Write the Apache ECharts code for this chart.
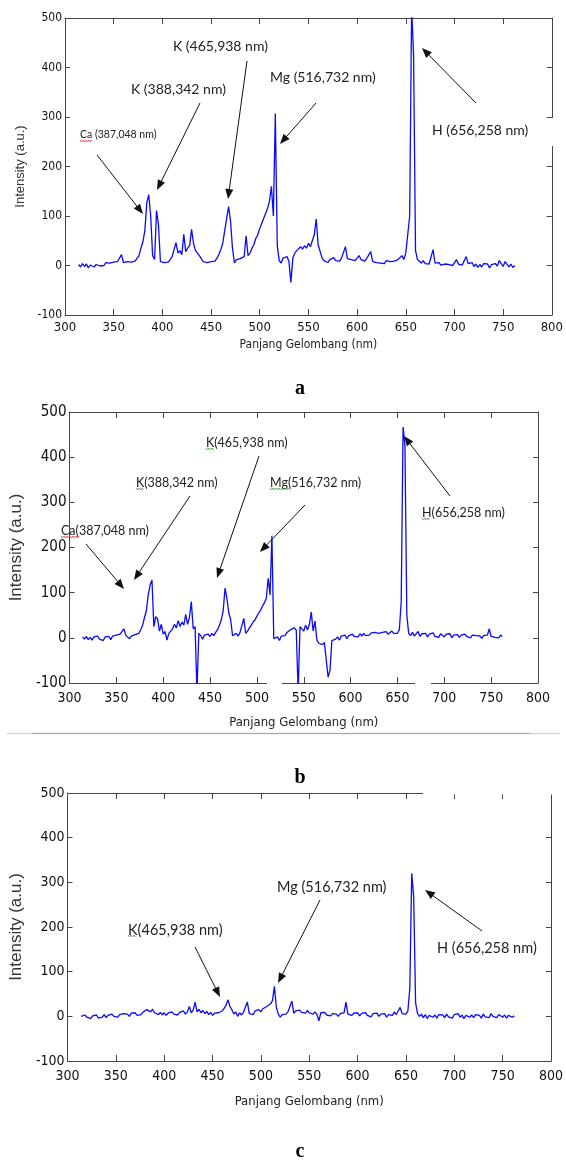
<!DOCTYPE html>
<html><head><meta charset="utf-8">
<script src="https://cdn.jsdelivr.net/npm/echarts/dist/echarts.min.js"></script>
<style>html,body{margin:0;padding:0;background:#fff}#chart{width:566px;height:1160px}</style>
</head><body><div id="chart"></div>
<script>
// ---------- DATA ----------
const wavelength = [
314,316,318,320,322,324,326,328,330,332,
334,336,338,340,342,344,346,348,350,352,
354,356,358,360,362,364,366,368,370,372,
374,376,378,380,382,384,386,388,390,392,
394,396,398,400,402,404,406,408,410,412,
414,416,418,420,422,424,426,428,430,432,
434,436,438,440,442,444,446,448,450,452,
454,456,458,460,462,464,466,468,470,472,
474,476,478,480,482,484,486,488,490,492,
494,496,498,500,502,504,506,508,510,512,
514,516,518,520,522,524,526,528,530,532,
534,536,538,540,542,544,546,548,550,552,
554,556,558,560,562,564,566,568,570,572,
574,576,578,580,582,584,586,588,590,592,
594,596,598,600,602,604,606,608,610,612,
614,616,618,620,622,624,626,628,630,632,
634,636,638,640,642,644,646,648,650,652,
654,656,658,660,662,664,666,668,670,672,
674,676,678,680,682,684,686,688,690,692,
694,696,698,700,702,704,706,708,710,712,
714,716,718,720,722,724,726,728,730,732,
734,736,738,740,742,744,746,748,750,752,
754,756,758,760,762];

const intensityA = [
2,-3,4,-2,3,-5,1,4,-3,2,
5,-1,3,0,6,2,5,1,7,3,
8,4,22,6,3,8,4,7,3,9,
12,20,35,48,70,127,143,100,20,12,
111,82,8,12,6,10,7,12,18,22,
46,25,30,22,63,28,35,40,73,45,
30,26,20,14,8,12,6,10,8,12,
9,15,22,32,45,70,95,119,90,35,
5,12,8,14,10,18,60,20,25,35,
42,55,62,75,85,95,105,115,130,160,
100,307,40,10,5,15,12,18,8,-34,
15,25,30,28,38,33,40,35,45,38,
50,62,94,42,45,15,10,14,6,12,
8,16,10,13,9,15,11,38,14,18,
12,16,10,14,20,12,16,9,15,11,
28,8,12,6,10,5,9,4,10,6,
8,5,9,7,12,10,20,12,25,28,
100,520,425,30,12,8,5,10,4,8,
3,6,32,5,2,6,1,5,3,7,
2,6,0,5,12,3,7,1,5,18,
4,0,6,-2,3,-4,2,-3,4,0,
3,-5,2,-2,4,-1,10,6,-2,8,
12,-3,3,-4,0];

const intensityB = [
2,-3,3,-4,1,-5,2,-2,4,-3,
0,-6,2,-2,3,-4,4,0,6,2,
8,5,20,6,3,-2,4,2,7,5,
10,18,28,45,60,95,117,128,25,47,
42,15,30,8,14,-5,10,15,20,30,
22,38,25,35,28,52,30,45,80,20,
25,-120,10,5,-3,6,2,8,3,10,
5,12,18,28,40,60,110,87,55,40,
5,2,10,4,12,8,43,10,15,22,
28,35,40,48,55,62,70,78,87,132,
95,226,-2,-5,2,-6,4,8,5,12,
10,18,14,22,17,-120,25,20,15,28,
18,30,57,15,37,-5,-12,-8,-15,-10,
-14,-87,-72,-6,-10,-3,2,-5,4,0,
6,-2,5,1,8,3,6,2,9,4,
10,5,8,6,11,7,12,8,10,6,
12,9,14,8,11,15,10,13,10,18,
80,467,425,50,10,5,12,4,8,14,
3,9,5,10,2,8,4,11,3,7,
1,9,5,2,8,4,9,0,6,3,
7,1,6,2,8,3,5,0,6,2,
5,1,4,-1,5,2,6,20,3,5,
1,4,0,6,3];

const intensityC = [
0,-4,3,-2,2,-5,1,-3,3,-4,
0,-2,4,-3,2,-1,5,0,3,-2,
4,1,6,2,5,0,7,3,8,2,
6,4,9,5,15,19,10,16,8,12,
4,9,3,8,2,7,4,10,5,8,
3,9,6,12,5,10,22,8,14,32,
10,16,8,13,6,11,4,9,2,7,
3,8,5,12,18,25,37,22,15,5,
10,0,8,3,9,5,32,6,10,4,
12,8,15,10,17,14,22,18,28,35,
67,20,5,-2,4,8,5,10,6,34,
7,12,8,14,9,12,7,13,8,11,
5,10,4,-10,8,5,9,3,7,1,
6,2,5,0,6,2,8,32,5,9,
2,7,3,8,1,6,3,9,2,5,
-1,6,2,7,0,5,1,6,-2,4,
8,2,10,4,12,20,6,10,5,12,
62,320,268,30,6,0,5,-3,4,-5,
2,6,-2,3,-4,4,0,3,-3,5,
-1,2,-4,4,0,6,-2,3,-5,2,
5,-2,3,-3,4,0,2,-4,5,-1,
3,-3,6,0,2,-3,4,7,-2,3,
-4,2,5,-2,1];

const xRange = [300, 800, 50];
const yRange = [-100, 500, 100];
const xAxisTitle = 'Panjang Gelombang (nm)';
const yAxisTitle = 'Intensity (a.u.)';
const panelLetters = ['a', 'b', 'c'];

const labelsA = ['K (465,938 nm)', 'Mg (516,732 nm)', 'K (388,342 nm)', 'Ca (387,048 nm)', 'H (656,258 nm)'];
const labelsB = ['K(465,938 nm)', 'K(388,342 nm)', 'Mg(516,732 nm)', 'Ca(387,048 nm)', 'H(656,258 nm)'];
const labelsC = ['Mg (516,732 nm)', 'K(465,938 nm)', 'H (656,258 nm)'];

// ---------- LAYOUT ----------
const NARROW = "'Liberation Sans Narrow','DejaVu Sans Condensed','Arial Narrow','Liberation Sans',sans-serif";
const panels = [
  {grid:{left:65, top:18, width:487, height:297}, values:intensityA,
   xFont:13, yFont:12, xNameFont:12, yNameFont:13, xNameGap:24, yNameGap:29, xMargin:6, yMargin:3,
   letterY:389},
  {grid:{left:46, top:412, width:492, height:271}, values:intensityB,
   xFont:14, yFont:15, xNameFont:13, yNameFont:17, xNameGap:33, yNameGap:31, xMargin:8, yMargin:3,
   letterY:778},
  {grid:{left:57, top:793, width:500, height:268}, values:intensityC,
   xFont:14, yFont:14, xNameFont:13, yNameFont:17, xNameGap:34, yNameGap:29, xMargin:8, yMargin:3,
   letterY:1152}
];

// annotation layout: [x(left), y(middle), fontSize]
const textLayout = [
  [labelsA, [[173,46,14],[270,77,14],[131,89,14],[80,135,10.5],[432,130,14]]],
  [labelsB, [[206,443,12.5],[136,483,12.5],[270,483,12.5],[61,531,12.5],[422,513,12.5]]],
  [labelsC, [[277,887,14.5],[128,930,14.5],[437,948,14.5]]]
];
const arrowLayout = [
  [247,61,228,199],[200,103,157,190],[97,155,143,214],[316,103,280,144],[476,103,422,48],
  [259,456,217,578],[190,496,134,580],[86,544,124,589],[305,505,260,552],[450,496,404,436],
  [320,900,278,983],[195,947,220,997],[482,931,425,890]
];
const squiggleLayout = [
  [80,92,141,'#e03030'],
  [206,214,449,'#3a9a3a'],[136,144,489,'#3a9a3a'],[270,290,489,'#3a9a3a'],[61,80,537,'#e03030'],[422,430,519,'#3a9a3a'],
  [128,136,936,'#3a9a3a']
];

// ---------- BUILD ----------
const AXIS_COLOR = '#454545';
const grids = [], xAxes = [], yAxes = [], series = [];
panels.forEach((p, i) => {
  grids.push(Object.assign({containLabel:false}, p.grid));
  const common = {min:xRange[0], max:xRange[1], interval:xRange[2], gridIndex:i, splitLine:{show:false},
    axisLine:{show:true, onZero:false, lineStyle:{color:AXIS_COLOR, width:1}},
    axisTick:{show:true, inside:true, length:6, lineStyle:{color:AXIS_COLOR}}};
  xAxes.push(Object.assign({}, common, {type:'value', position:'bottom',
    axisLabel:{color:'#111', fontSize:p.xFont, fontFamily:NARROW, margin:p.xMargin},
    name:xAxisTitle, nameLocation:'middle', nameGap:p.xNameGap,
    nameTextStyle:{color:'#222', fontSize:p.xNameFont, fontFamily:NARROW, verticalAlign:'top'}}));
  xAxes.push(Object.assign({}, common, {type:'value', position:'top', axisLabel:{show:false}}));
  const ycommon = {min:yRange[0], max:yRange[1], interval:yRange[2], gridIndex:i, splitLine:{show:false},
    axisLine:{show:true, onZero:false, lineStyle:{color:AXIS_COLOR, width:1}},
    axisTick:{show:true, inside:true, length:5, lineStyle:{color:AXIS_COLOR}}};
  yAxes.push(Object.assign({}, ycommon, {type:'value', position:'left',
    axisLabel:{color:'#111', fontSize:p.yFont, fontFamily:NARROW, margin:p.yMargin},
    name:yAxisTitle, nameLocation:'middle', nameGap:p.yNameGap,
    nameTextStyle:{color:'#333', fontSize:p.yNameFont, fontFamily:"'Liberation Sans',Arial,sans-serif"}}));
  yAxes.push(Object.assign({}, ycommon, {type:'value', position:'right', axisLabel:{show:false}}));
  series.push({type:'line', xAxisIndex:2*i, yAxisIndex:2*i, showSymbol:false, symbol:'none',
    clip:true, animation:false, sampling:null,
    lineStyle:{color:'#0a0aff', width:1.3}, itemStyle:{color:'#0a0aff'},
    data: wavelength.map((w, k) => [w, p.values[k]])});
});

const graphic = [];
textLayout.forEach(([labels, pos]) => {
  pos.forEach((q, k) => {
    graphic.push({type:'text', x:q[0], y:q[1], z:50,
      style:{text:labels[k], fontSize:q[2], fontFamily:"Lato,'Open Sans',sans-serif",
        fill:'#222', align:'left', verticalAlign:'middle', textAlign:'left', textVerticalAlign:'middle'}});
  });
});
arrowLayout.forEach(([x1,y1,x2,y2]) => {
  const dx = x2-x1, dy = y2-y1, L = Math.hypot(dx,dy), ux = dx/L, uy = dy/L;
  const hl = 10, hw = 4, bx = x2-ux*hl, by = y2-uy*hl, px = -uy, py = ux;
  graphic.push({type:'line', z:50, shape:{x1:x1, y1:y1, x2:bx, y2:by}, style:{stroke:'#111', lineWidth:1}});
  graphic.push({type:'polygon', z:50, shape:{points:[[x2,y2],[bx+px*hw,by+py*hw],[bx-px*hw,by-py*hw]]}, style:{fill:'#111'}});
});
squiggleLayout.forEach(([x1,x2,y,c]) => {
  const pts = [];
  for (let x = x1, k = 0; x <= x2; x += 1.5, k++) pts.push([x, y + (k % 2 ? 1 : -1)]);
  graphic.push({type:'polyline', z:50, shape:{points:pts}, style:{stroke:c, lineWidth:0.8, fill:null}});
});
panels.forEach((p, i) => {
  graphic.push({type:'text', x:300, y:p.letterY, z:50,
    style:{text:panelLetters[i], fontSize:20, fontWeight:'bold', fontFamily:"'Liberation Serif','DejaVu Serif',serif",
      fill:'#000', align:'center', verticalAlign:'middle', textAlign:'center', textVerticalAlign:'middle'}});
});
// scan artifacts: frame gaps and separator
graphic.push({type:'rect', z:60, shape:{x:548, y:118, width:8, height:28}, style:{fill:'#fff'}});
graphic.push({type:'rect', z:60, shape:{x:267, y:680.5, width:15, height:5}, style:{fill:'#fff'}});
graphic.push({type:'rect', z:60, shape:{x:415, y:680.5, width:16, height:5}, style:{fill:'#fff'}});
graphic.push({type:'rect', z:60, shape:{x:423, y:790.5, width:140, height:4}, style:{fill:'#fff'}});
graphic.push({type:'line', z:60, shape:{x1:7, y1:733.5, x2:560, y2:733.5}, style:{stroke:'#d4d4d8', lineWidth:1.5}});
graphic.push({type:'line', z:61, shape:{x1:32, y1:733.5, x2:530, y2:733.5}, style:{stroke:'#a8a8b4', lineWidth:1}});

if (wavelength.length !== intensityA.length || wavelength.length !== intensityB.length || wavelength.length !== intensityC.length) {
  console.error('length mismatch', wavelength.length, intensityA.length, intensityB.length, intensityC.length);
}

const chart = echarts.init(document.getElementById('chart'), null, {renderer:'canvas'});
chart.setOption({backgroundColor:'#fff', animation:false, grid:grids, xAxis:xAxes, yAxis:yAxes, series:series, graphic:graphic});
</script></body></html>
